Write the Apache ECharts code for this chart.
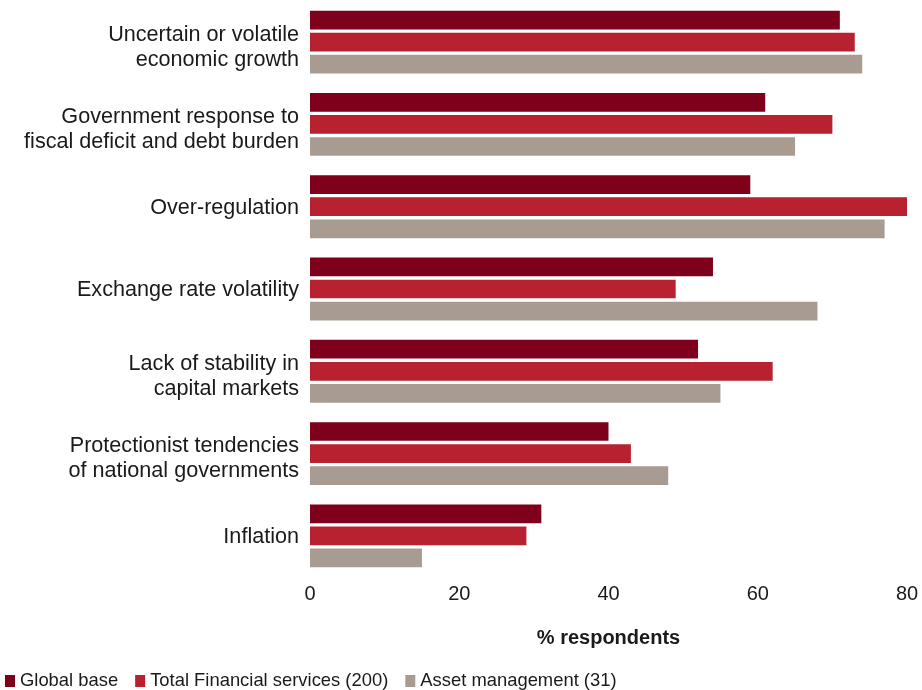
<!DOCTYPE html>
<html>
<head>
<meta charset="utf-8">
<script src="https://cdn.jsdelivr.net/npm/echarts@6/dist/echarts.min.js"></script>
<style>
html,body{margin:0;padding:0;background:#fff;}
#chart{width:922px;height:690px;}
</style>
</head>
<body>
<div id="chart"></div>
<script>
const categories = [
  "Uncertain or volatile\neconomic growth",
  "Government response to\nfiscal deficit and debt burden",
  "Over-regulation",
  "Exchange rate volatility",
  "Lack of stability in\ncapital markets",
  "Protectionist tendencies\nof national governments",
  "Inflation"
];
const globalBase = [71, 61, 59, 54, 52, 40, 31];
const totalFinancial = [73, 70, 80, 49, 62, 43, 29];
const assetManagement = [74, 65, 77, 68, 55, 48, 15];
const xTicks = [0, 20, 40, 60, 80];
const seriesNames = ["Global base", "Total Financial services (200)", "Asset management (31)"];
const colors = ["#7e001b", "#b8212f", "#a89c92"];

const FONT = "'Liberation Sans', Arial, sans-serif";
const chart = echarts.init(document.getElementById('chart'), null, {renderer: 'canvas'});
const mk = (name, data, color) => ({
  name: name,
  type: 'bar',
  data: data,
  barWidth: 18.7,
  barGap: '18%',
  itemStyle: {color: color},
  emphasis: {disabled: true},
  animation: false
});
chart.setOption({
  animation: false,
  textStyle: {fontFamily: FONT},
  grid: {left: 310, right: 15, top: 1, bottom: 113, containLabel: false},
  xAxis: {
    type: 'value',
    min: xTicks[0],
    max: xTicks[xTicks.length - 1],
    interval: xTicks[1] - xTicks[0],
    axisLine: {show: false},
    axisTick: {show: false},
    splitLine: {show: false},
    axisLabel: {color: '#1a1a1a', fontSize: 20, margin: 7, fontFamily: FONT},
    name: '% respondents',
    nameLocation: 'middle',
    nameGap: 51,
    nameTextStyle: {color: '#1a1a1a', fontSize: 20, fontWeight: 'bold', fontFamily: FONT}
  },
  yAxis: {
    type: 'category',
    data: categories,
    inverse: true,
    axisLine: {show: false},
    axisTick: {show: false},
    splitLine: {show: false},
    axisLabel: {
      color: '#1a1a1a', fontSize: 21.6, lineHeight: 25, margin: 11, fontFamily: FONT, align: 'right',
      formatter: function (v) {
        const lines = v.split('\n');
        if (lines.length > 1) {
          return '{sp| }\n' + lines.map(l => '{m|' + l + '}').join('\n');
        }
        return '{sp2| }\n{m|' + v + '}';
      },
      rich: {
        sp: {fontSize: 1, lineHeight: 10},
        sp2: {fontSize: 1, lineHeight: 3},
        m: {fontSize: 21.6, lineHeight: 25, color: '#1a1a1a', fontFamily: FONT, align: 'right'}
      }
    }
  },
  legend: {
    left: 5,
    top: 672,
    icon: 'rect',
    itemWidth: 10,
    itemHeight: 12,
    itemGap: 17,
    padding: 0,
    textStyle: {color: '#1a1a1a', fontSize: 18.4, padding: [0, 0, 0, 0], fontFamily: FONT},
    data: seriesNames
  },
  series: [
    mk(seriesNames[0], globalBase, colors[0]),
    mk(seriesNames[1], totalFinancial, colors[1]),
    mk(seriesNames[2], assetManagement, colors[2])
  ]
});
</script>
</body>
</html>
